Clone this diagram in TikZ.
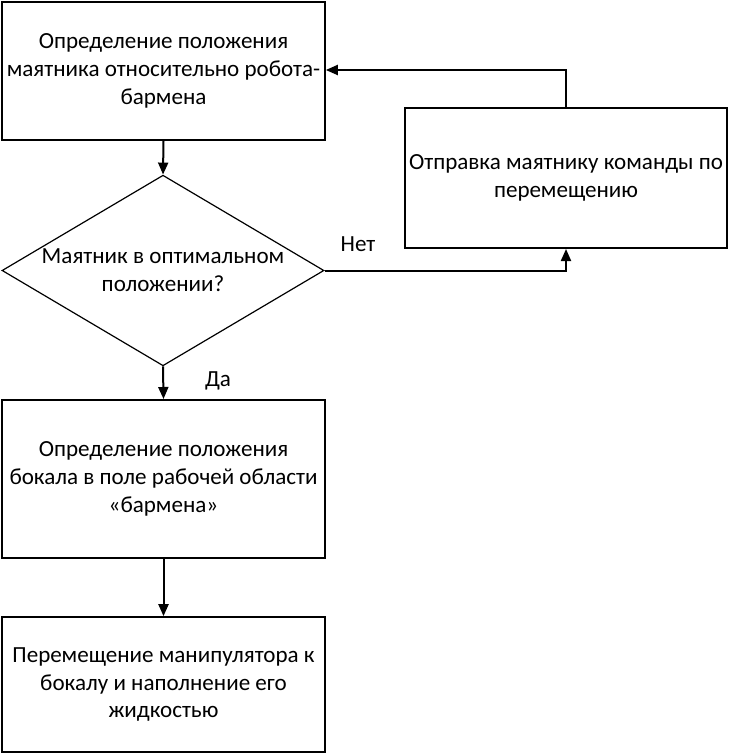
\documentclass[tikz,border=0pt]{standalone}
\usepackage{fontspec}
\setmainfont{Carlito}
\usetikzlibrary{arrows.meta,shapes.geometric}
\begin{document}
\begin{tikzpicture}[x=0.75pt,y=-0.75pt,
  every node/.style={font=\fontsize{17.3}{20.8}\selectfont, align=center},
  box/.style={draw, line width=1.5pt, inner sep=0pt, minimum width=242pt},
  dec/.style={draw, diamond, shape aspect=1.69, line width=0.9pt, inner sep=0pt, minimum width=241.5pt, minimum height=143pt},
  conn/.style={line width=1.5pt, -{Triangle[length=9pt,width=7.5pt]}}]
\useasboundingbox (0,0) rectangle (729,756);
\node[box, minimum height=103.5pt] (b1) at (163.5,71) {Определение положения\\маятника относительно робота-\\бармена};
\node[box, minimum height=105pt, minimum width=241.5pt] (b2) at (566,178) {Отправка маятнику команды по\\перемещению};
\node[dec] (d) at (163,270.5) {Маятник в оптимальном\\положении?};
\node[box, minimum height=118.5pt] (b3) at (163.5,479) {Определение положения\\бокала в поле рабочей области\\«бармена»};
\node[box, minimum height=101pt] (b4) at (163.5,684.5) {Перемещение манипулятора к\\бокалу и наполнение его\\жидкостью};
\node (no) at (358,244) {Нет};
\node (yes) at (218,381) {Да};
\draw[conn] (b1.south) -- (d.north);
\draw[conn] (d.south) -- (b3.north);
\draw[conn] (b3.south) -- (b4.north);
\draw[conn] (d.east) -| (b2.south);
\draw[conn] (b2.north) |- ([yshift=0.75pt]b1.east);
\end{tikzpicture}
\end{document}
